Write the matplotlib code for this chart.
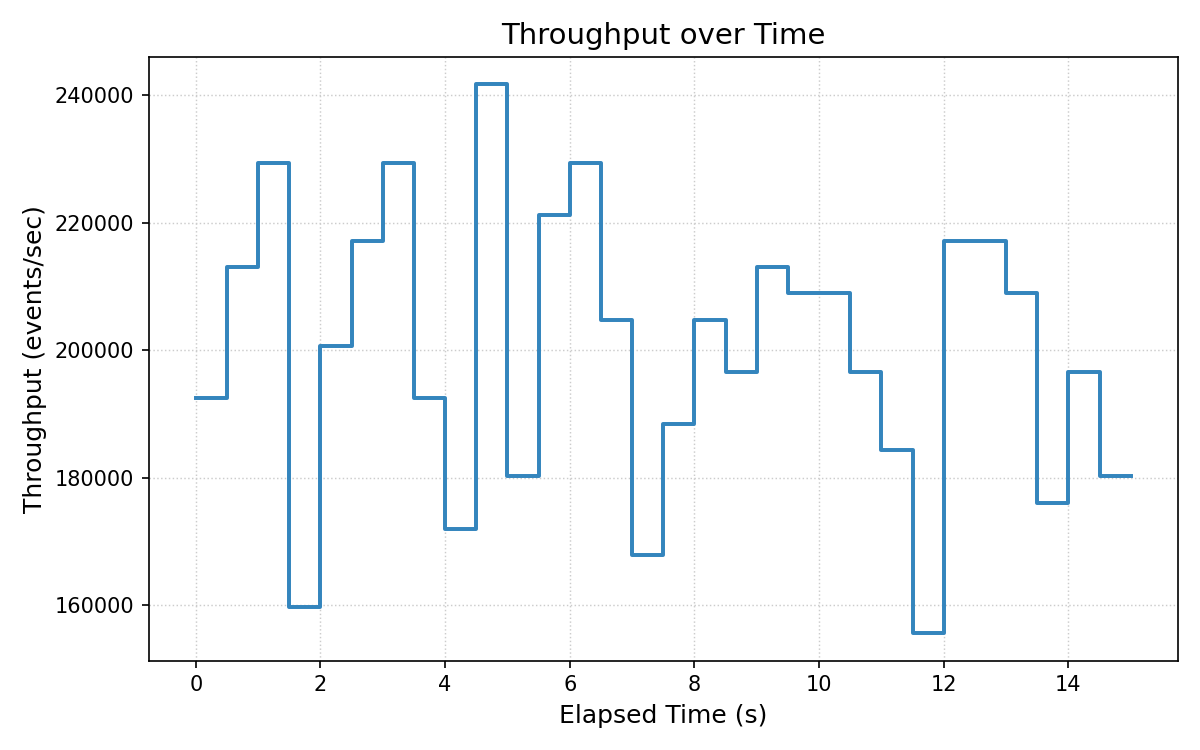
import matplotlib
matplotlib.use("Agg")
import matplotlib.pyplot as plt
import numpy as np

# elapsed time (s), one sample every 0.5 s
elapsed = np.arange(0, 15.5, 0.5)
# throughput per interval (events/sec); last value repeated to close the step
throughput = [
    192512, 212992, 229376, 159744, 200704, 217088, 229376, 192512,
    172032, 241664, 180224, 221184, 229376, 204800, 167936, 188416,
    204800, 196608, 212992, 208896, 208896, 196608, 184320, 155648,
    217088, 217088, 208896, 176128, 196608, 180224, 180224,
]

fig, ax = plt.subplots(figsize=(8, 5), dpi=150)
ax.step(elapsed, throughput, where="post", color="#3485bd", linewidth=1.9)

ax.set_title("Throughput over Time", fontsize=14)
ax.set_xlabel("Elapsed Time (s)", fontsize=12)
ax.set_ylabel("Throughput (events/sec)", fontsize=12)
ax.grid(True, linestyle=":", color="#cccccc", linewidth=0.7)

plt.tight_layout()
plt.savefig("out.png")
